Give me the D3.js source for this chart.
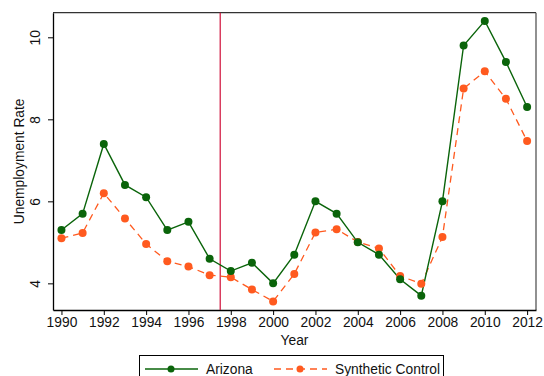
<!DOCTYPE html>
<html><head><meta charset="utf-8">
<script src="https://cdn.jsdelivr.net/npm/d3@7"></script>
<style>body{margin:0;background:#fff;}svg{display:block;font-family:"Liberation Sans",Arial,sans-serif;}</style>
</head><body><svg id="c" width="544" height="376"></svg>
<script>
const years = d3.range(1990, 2013);
const arizona = [5.3,5.7,7.4,6.4,6.1,5.3,5.5,4.6,4.3,4.5,4.0,4.7,6.0,5.7,5.0,4.7,4.1,3.7,6.0,9.8,10.4,9.4,8.3];
const synthetic = [5.1,5.23,6.2,5.58,4.96,4.54,4.41,4.2,4.15,3.85,3.56,4.23,5.24,5.32,5.01,4.85,4.18,3.99,5.13,8.75,9.17,8.5,7.47];
const xTicks = [1990,1992,1994,1996,1998,2000,2002,2004,2006,2008,2010,2012];
const yTicks = [4,6,8,10];
const treatmentYear = 1997.5;
const seriesNames = ["Arizona","Synthetic Control"];

const svg = d3.select("#c");
const L=53, R=536, T=12.7, B=310;
const FS = 13.8;
const x = d3.scaleLinear().domain([1989.6, 2012.42]).range([L, R]);
const y = d3.scaleLinear().domain([3.35, 10.6]).range([B, T]);
const green="#0a640a", orange="#ff5a1f";

svg.append("line").attr("x1",L).attr("x2",R).attr("y1",T).attr("y2",T).attr("stroke","#333").attr("stroke-width",1.3);
svg.append("line").attr("x1",R).attr("x2",R).attr("y1",T).attr("y2",B).attr("stroke","#555").attr("stroke-width",1.3);

const xa = svg.append("g").attr("transform",`translate(0,${B})`)
  .call(d3.axisBottom(x).tickValues(xTicks).tickFormat(d3.format("d")).tickSize(5).tickSizeOuter(0));
const ya = svg.append("g").attr("transform",`translate(${L},0)`)
  .call(d3.axisLeft(y).tickValues(yTicks).tickSize(5).tickSizeOuter(0));
[xa,ya].forEach(a=>{a.select(".domain").attr("stroke","#000").attr("stroke-width",1.3);a.selectAll(".tick line").attr("stroke","#000");a.selectAll("text").attr("fill","#111").attr("font-size",FS).attr("font-family","Liberation Sans, Arial, sans-serif");});
xa.selectAll("text").attr("dy","0.95em").attr("y",4);
ya.selectAll(".tick text").attr("text-anchor","middle").attr("transform","translate(-13,0) rotate(-90)").attr("x",0).attr("y",0).attr("dy","0");

svg.append("text").attr("x",(L+R)/2).attr("y",345).attr("text-anchor","middle").attr("font-size",FS).attr("fill","#111").text("Year");
svg.append("text").attr("transform",`translate(24,${(T+B)/2}) rotate(-90)`).attr("text-anchor","middle").attr("font-size",FS).attr("fill","#111").text("Unemployment Rate");

svg.append("line").attr("x1",x(treatmentYear)).attr("x2",x(treatmentYear)).attr("y1",T).attr("y2",B).attr("stroke","#d0103a").attr("stroke-width",1.2);

const line = d3.line().x((d,i)=>x(years[i])).y(d=>y(d));
svg.append("path").datum(synthetic).attr("d",line).attr("fill","none").attr("stroke",orange).attr("stroke-width",1.3).attr("stroke-dasharray","7,5");
svg.append("path").datum(arizona).attr("d",line).attr("fill","none").attr("stroke",green).attr("stroke-width",1.4);
svg.append("g").selectAll("circle").data(synthetic).join("circle").attr("cx",(d,i)=>x(years[i])).attr("cy",d=>y(d)).attr("r",4).attr("fill",orange);
svg.append("g").selectAll("circle").data(arizona).join("circle").attr("cx",(d,i)=>x(years[i])).attr("cy",d=>y(d)).attr("r",4).attr("fill",green);

const lg = svg.append("g");
lg.append("rect").attr("x",139.5).attr("y",355.5).attr("width",304).attr("height",30).attr("fill","#fff").attr("stroke","#000").attr("stroke-width",1);
lg.append("line").attr("x1",145).attr("x2",198).attr("y1",369).attr("y2",369).attr("stroke",green).attr("stroke-width",1.4);
lg.append("circle").attr("cx",171).attr("cy",369).attr("r",3.5).attr("fill",green);
lg.append("text").attr("x",206).attr("y",374).attr("font-size",FS).attr("fill","#111").text(seriesNames[0]);
lg.append("line").attr("x1",274).attr("x2",327).attr("y1",369).attr("y2",369).attr("stroke",orange).attr("stroke-width",1.3).attr("stroke-dasharray","7,5");
lg.append("circle").attr("cx",300).attr("cy",369).attr("r",3.5).attr("fill",orange);
lg.append("text").attr("x",335).attr("y",374).attr("font-size",FS).attr("fill","#111").text(seriesNames[1]);
</script></body></html>
